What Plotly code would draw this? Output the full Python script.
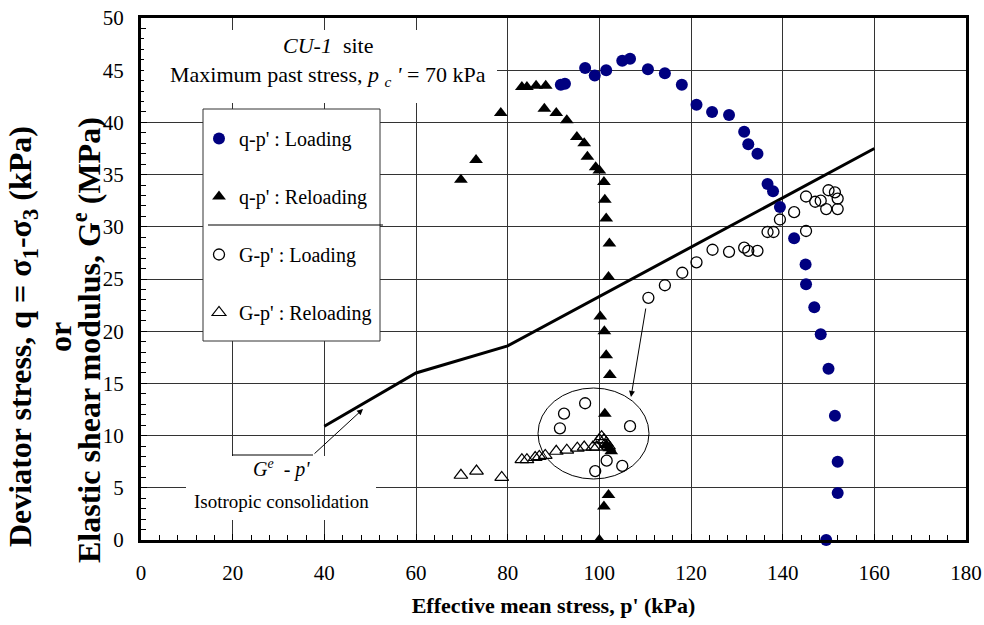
import plotly.graph_objects as go

FONT = "Liberation Serif, Times New Roman, serif"

# q-p' : Loading (p' kPa, q kPa)
q_load_p = [91.6, 92.5, 96.9, 99.0, 101.5, 105.0, 106.7, 110.6, 114.3, 118.0, 121.2, 124.6,
            128.3, 131.6, 132.5, 134.5, 136.7, 137.9, 139.4, 142.5, 145.0, 145.1, 146.9,
            148.3, 150.0, 151.4, 152.0, 152.0, 149.5]
q_load_q = [43.6, 43.7, 45.2, 44.5, 45.0, 45.9, 46.1, 45.1, 44.7, 43.6, 41.7, 41.0,
            40.7, 39.1, 37.9, 37.0, 34.1, 33.4, 31.9, 28.9, 26.4, 24.5, 22.3,
            19.7, 16.4, 11.9, 7.5, 4.5, 0.0]

# q-p' : Reloading
q_rel_p = [69.8, 73.1, 78.5, 83.1, 84.2, 86.2, 88.3, 88.0, 90.6, 92.9, 95.1, 96.7, 97.4, 99.2,
           100.0, 101.0, 101.2, 101.5, 102.2, 102.0, 100.2, 101.1, 101.5, 102.3, 101.2,
           101.5, 102.2, 102.6, 102.0, 101.0, 100.0]
q_rel_q = [34.5, 36.4, 40.9, 43.4, 43.4, 43.5, 43.5, 41.3, 40.9, 40.2, 38.6, 38.0, 36.7, 35.7,
           35.4, 34.3, 32.6, 30.8, 28.4, 25.2, 21.4, 20.0, 17.7, 15.8, 12.1,
           9.1, 8.8, 8.5, 4.3, 3.2, 0.0]

# G-p' : Loading (p' kPa, G MPa)
g_load_p = [91.4, 92.3, 96.9, 99.1, 101.6, 105.0, 106.7, 110.7, 114.3, 118.1, 121.2, 124.7,
            128.3, 131.6, 132.5, 134.5, 136.7, 138.0, 139.4, 142.5, 145.1, 145.1, 147.1,
            148.3, 149.5, 150.0, 151.4, 152.0, 152.0]
g_load_g = [10.7, 12.1, 13.1, 6.6, 7.6, 7.1, 10.9, 23.2, 24.4, 25.6, 26.6, 27.8,
            27.6, 28.0, 27.7, 27.7, 29.5, 29.5, 30.7, 31.4, 29.6, 32.9, 32.4,
            32.5, 31.7, 33.5, 33.3, 32.7, 31.7]

# G-p' : Reloading
g_rel_p = [69.8, 73.2, 78.7, 83.1, 84.2, 86.0, 86.9, 88.2, 90.6, 92.9, 95.2, 96.7, 98.6,
           99.4, 100.0, 100.5, 101.0, 101.5, 102.0]
g_rel_g = [6.2, 6.6, 6.0, 7.7, 7.7, 7.9, 8.0, 8.1, 8.5, 8.6, 8.8, 8.9, 8.9,
           8.9, 9.6, 9.9, 9.6, 9.3, 9.0]

# Ge - p' : Isotropic consolidation
iso_p = [40, 60, 80, 160]
iso_g = [10.9, 16.0, 18.6, 37.5]

x_ticks = [0, 20, 40, 60, 80, 100, 120, 140, 160, 180]
y_ticks = [0, 5, 10, 15, 20, 25, 30, 35, 40, 45, 50]

fig = go.Figure()
fig.add_trace(go.Scatter(x=iso_p, y=iso_g, mode="lines", line=dict(color="black", width=3),
                         showlegend=False, hoverinfo="skip"))
fig.add_trace(go.Scatter(x=q_load_p, y=q_load_q, mode="markers", name="q-p' : Loading",
                         legendgroup="a", cliponaxis=False,
                         marker=dict(symbol="circle", size=12, color="#000080")))
fig.add_trace(go.Scatter(x=q_rel_p, y=q_rel_q, mode="markers", name="q-p' : Reloading",
                         legendgroup="b", cliponaxis=False,
                         marker=dict(symbol="triangle-up", size=12, color="black")))
fig.add_trace(go.Scatter(x=g_load_p, y=g_load_g, mode="markers", name="G-p' : Loading",
                         legendgroup="c", cliponaxis=False,
                         marker=dict(symbol="circle-open", size=11, color="black",
                                     line=dict(width=1.3, color="black"))))
fig.add_trace(go.Scatter(x=g_rel_p, y=g_rel_g, mode="markers", name="G-p' : Reloading",
                         legendgroup="d", cliponaxis=False,
                         marker=dict(symbol="triangle-up-open", size=12, color="black",
                                     line=dict(width=1.2, color="black"))))

L, R, T, B = 141, 18, 18, 85
W, H = 984, 625
PW, PH = W - L - R, H - T - B

def px(xp):
    return (xp - L) / PW

def py(yp):
    return (H - B - yp) / PH

shapes = [
    # white box behind top annotation
    dict(type="rect", xref="paper", yref="paper", x0=px(144), x1=px(497), y0=py(103), y1=py(30),
         fillcolor="white", line=dict(width=0), layer="above"),
    # legend box
    dict(type="rect", xref="paper", yref="paper", x0=px(203), x1=px(380), y0=py(341), y1=py(109),
         fillcolor="white", line=dict(width=1, color="#333"), layer="above"),
    dict(type="line", xref="paper", yref="paper", x0=px(208), x1=px(383), y0=py(225), y1=py(225),
         line=dict(width=1.2, color="black"), layer="above"),
    # white box behind bottom-left annotation
    dict(type="rect", xref="paper", yref="paper", x0=px(186), x1=px(376), y0=py(520), y1=py(456),
         fillcolor="white", line=dict(width=0), layer="above"),
    # leader line
    dict(type="line", xref="paper", yref="paper", x0=px(232), x1=px(313), y0=py(455), y1=py(455),
         line=dict(width=1, color="black"), layer="above"),
    # ellipse
    dict(type="circle", xref="paper", yref="paper", x0=px(538), x1=px(649), y0=py(479), y1=py(388),
         line=dict(width=1, color="black"), layer="above"),
]

def txt(text, xp, yp, size, angle=0):
    return dict(text=text, xref="paper", yref="paper", x=px(xp), y=py(yp),
                xanchor="center", yanchor="middle", textangle=angle, showarrow=False,
                font=dict(family=FONT, size=size, color="black"))

annotations = [
    txt("<i>CU-1</i>  site", 328, 45, 22),
    txt("Maximum past stress, <i>p</i> <sub><i>c</i></sub> <i>'</i> = 70 kPa", 328, 76, 22),
    txt("<i>G</i><sup><i>e</i></sup>  - <i>p'</i>", 281, 468, 20),
    txt("Isotropic consolidation", 281, 501, 19),
    # arrow to isotropic line
    dict(text="", xref="paper", yref="paper", x=px(363), y=py(409), ax=-50, ay=46,
         showarrow=True, arrowhead=2, arrowsize=1.2, arrowwidth=1, arrowcolor="black"),
    # arrow to ellipse
    dict(text="", xref="paper", yref="paper", x=px(631), y=py(397), ax=15, ay=-90,
         showarrow=True, arrowhead=2, arrowsize=1.2, arrowwidth=1, arrowcolor="black"),
    # y-axis title lines
    txt("<b>Deviator stress, q = σ<sub>1</sub>-σ<sub>3</sub> (kPa)</b>", 22, 337, 32, -90),
    txt("<b>or</b>", 60, 337, 32, -90),
    txt("<b>Elastic shear modulus, G<sup>e</sup> (MPa)</b>", 87, 340, 32, -90),
]

fig.update_layout(
    width=W, height=H,
    margin=dict(l=L, r=R, t=T, b=B, autoexpand=False),
    paper_bgcolor="white", plot_bgcolor="white",
    font=dict(family=FONT, size=20, color="black"),
    shapes=shapes, annotations=annotations,
    showlegend=True,
    legend=dict(x=px(199), y=py(119), xanchor="left", yanchor="top",
                bgcolor="rgba(0,0,0,0)", borderwidth=0,
                font=dict(family=FONT, size=20, color="black"),
                tracegroupgap=29, itemsizing="trace"),
)

fig.update_xaxes(range=[0, 180], tickvals=x_ticks, showgrid=True, gridcolor="#333", gridwidth=1,
                 showline=True, linecolor="black", linewidth=3, mirror=True,
                 ticks="inside", ticklen=6, tickcolor="black", automargin=False,
                 minor=dict(dtick=4, ticks="inside", ticklen=5, tickcolor="black", showgrid=False),
                 tickfont=dict(family=FONT, size=21), ticklabelstandoff=12,
                 zeroline=False,
                 title=dict(text="<b>Effective mean stress, p' (kPa)</b>",
                            font=dict(family=FONT, size=22), standoff=14))
fig.update_yaxes(range=[0, 50], tickvals=y_ticks, showgrid=True, gridcolor="#333", gridwidth=1,
                 showline=True, linecolor="black", linewidth=3, mirror=True,
                 ticks="inside", ticklen=6, tickcolor="black", automargin=False,
                 minor=dict(dtick=1, ticks="inside", ticklen=5, tickcolor="black", showgrid=False),
                 tickfont=dict(family=FONT, size=21), ticklabelstandoff=10,
                 zeroline=False)

fig.write_html("out.html")
